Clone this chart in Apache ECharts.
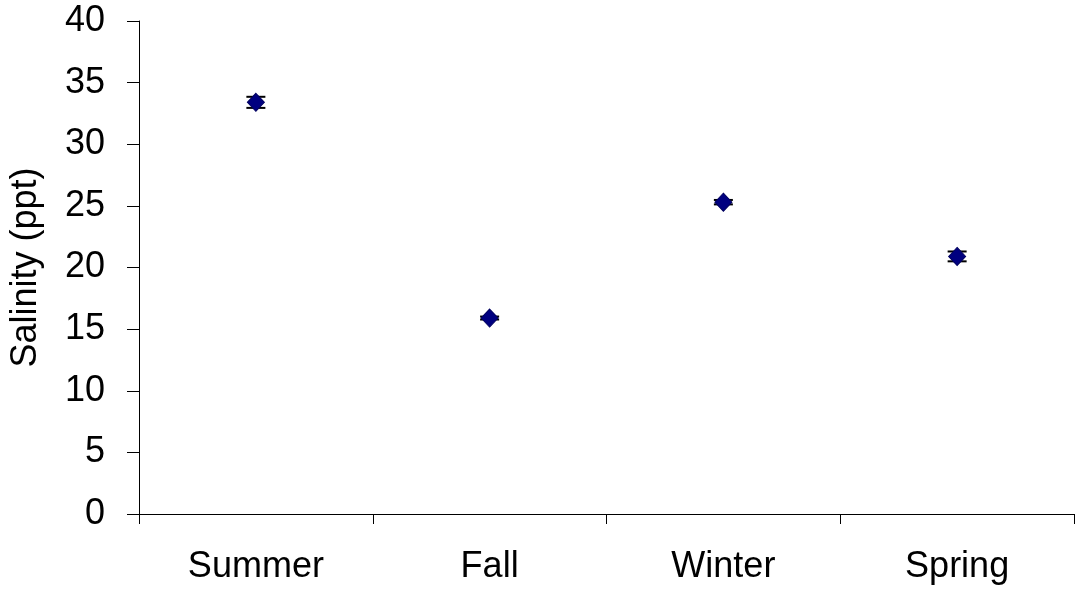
<!DOCTYPE html>
<html>
<head>
<meta charset="utf-8">
<script src="https://cdn.jsdelivr.net/npm/echarts@6/dist/echarts.min.js"></script>
<style>
  html, body { margin: 0; padding: 0; background: #fff; }
  #chart { width: 1075px; height: 594px; }
</style>
</head>
<body>
<div id="chart"></div>
<script>
// Seasonal mean salinity with error (± half-range)
const seasons = ['Summer', 'Fall', 'Winter', 'Spring'];
const salinity = [33.4, 15.9, 25.3, 20.9];
const salinityErr = [0.45, 0.12, 0.18, 0.4];
const yTicks = [0, 5, 10, 15, 20, 25, 30, 35, 40];

const chart = echarts.init(document.getElementById('chart'));
const font = 'Liberation Sans, Arial, sans-serif';

const errData = seasons.map((s, i) => [i, salinity[i] - salinityErr[i], salinity[i] + salinityErr[i]]);

chart.setOption({
  animation: false,
  backgroundColor: '#ffffff',
  grid: { left: 137, right: 1, top: 21, bottom: 80 },
  xAxis: {
    type: 'category',
    data: seasons,
    boundaryGap: true,
    axisLine: { lineStyle: { color: '#000', width: 1 } },
    axisTick: { show: true, length: 10, lineStyle: { color: '#000' } },
    axisLabel: { color: '#000', fontSize: 36, fontFamily: font, margin: 35 }
  },
  yAxis: {
    type: 'value',
    min: yTicks[0],
    max: yTicks[yTicks.length - 1],
    interval: 5,
    name: 'Salinity (ppt)',
    nameLocation: 'middle',
    nameRotate: 90,
    nameGap: 95,
    nameTextStyle: { color: '#000', fontSize: 36, fontFamily: font },
    axisLine: { show: true, lineStyle: { color: '#000', width: 1 } },
    axisTick: { show: true, length: 12, lineStyle: { color: '#000' } },
    splitLine: { show: false },
    axisLabel: { color: '#000', fontSize: 36, fontFamily: font, margin: 34 }
  },
  series: [
    {
      type: 'custom',
      data: errData,
      z: 1,
      renderItem: function (params, api) {
        const x = api.value(0);
        const lo = api.coord([x, api.value(1)]);
        const hi = api.coord([x, api.value(2)]);
        const half = 9.5;
        const style = { stroke: '#000', lineWidth: 2, fill: null };
        return {
          type: 'group',
          children: [
            { type: 'line', shape: { x1: hi[0], y1: hi[1], x2: lo[0], y2: lo[1] }, style: style },
            { type: 'line', shape: { x1: hi[0] - half, y1: hi[1], x2: hi[0] + half, y2: hi[1] }, style: style },
            { type: 'line', shape: { x1: lo[0] - half, y1: lo[1], x2: lo[0] + half, y2: lo[1] }, style: style }
          ]
        };
      }
    },
    {
      type: 'scatter',
      data: salinity,
      z: 2,
      symbol: 'diamond',
      symbolSize: [17, 18],
      itemStyle: { color: '#000080', borderColor: '#000060', borderWidth: 1, opacity: 1 }
    }
  ]
});
</script>
</body>
</html>
